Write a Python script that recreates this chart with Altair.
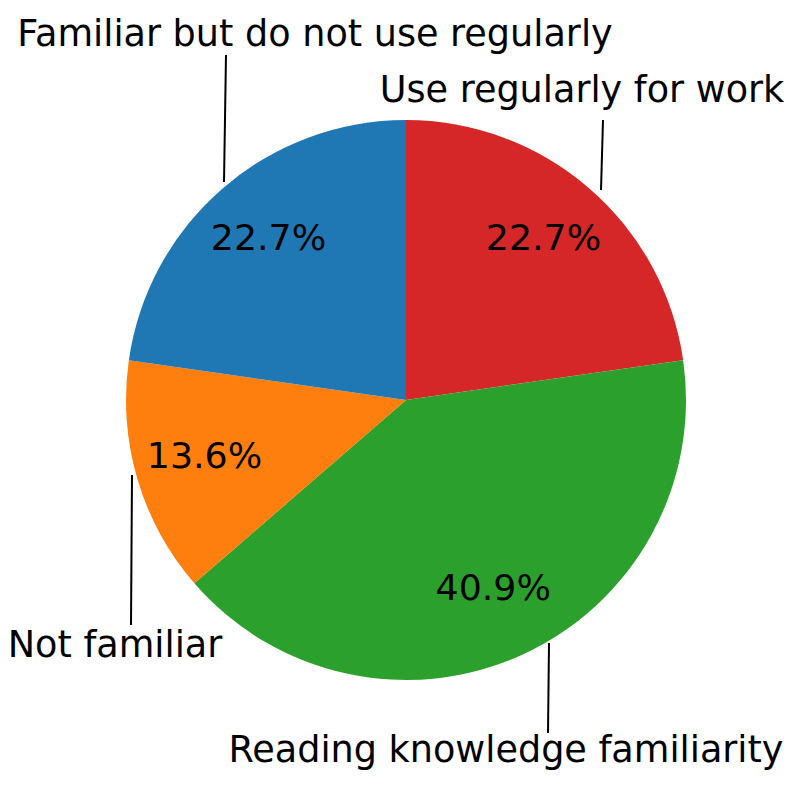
import altair as alt
import pandas as pd

# Data (clockwise from 12 o'clock)
categories = ["Use regularly for work", "Reading knowledge familiarity",
              "Not familiar", "Familiar but do not use regularly"]
counts = [5, 9, 3, 5]
colors = ["#d62728", "#2ca02c", "#ff7f0e", "#1f77b4"]

# Layout (page pixel coords; chart = page - 8)
OFF = 8
center = (406 - OFF, 400 - OFF)
R = 280
pct_r = 210
label_x = [582, 506, 115, 315]
label_y = [102, 762, 657, 46]
line_x1 = [603, 549, 132, 226]
line_y1 = [120, 643, 475, 55]
line_x2 = [601, 548, 131, 224]
line_y2 = [190, 733, 625, 182]

total = sum(counts)
df = pd.DataFrame({
    "category": categories,
    "count": counts,
    "pct": [c / total for c in counts],
    "idx": list(range(len(categories))),
})

lab = pd.DataFrame({
    "category": categories,
    "lx": [v - OFF for v in label_x],
    "ly": [v - OFF for v in label_y],
    "x1": [v - OFF for v in line_x1],
    "y1": [v - OFF for v in line_y1],
    "x2": [v - OFF for v in line_x2],
    "y2": [v - OFF for v in line_y2],
})

color_scale = alt.Scale(domain=categories, range=colors)

base = alt.Chart(df)

arcs = base.mark_arc(outerRadius=R, stroke=None).encode(
    theta=alt.Theta("count:Q", stack=True),
    order=alt.Order("idx:Q"),
    color=alt.Color("category:N", scale=color_scale, legend=None),
    x=alt.value(center[0]),
    y=alt.value(center[1]),
)

pct_text = base.mark_text(
    fontSize=36.3, font="DejaVu Sans", color="black", baseline="middle", align="center", dy=-2
).encode(
    theta=alt.Theta("count:Q", stack=True),
    order=alt.Order("idx:Q"),
    radius=alt.value(pct_r),
    text=alt.Text("pct:Q", format=".1%"),
    x=alt.value(center[0]),
    y=alt.value(center[1]),
)

lines = alt.Chart(lab).mark_rule(color="black", strokeWidth=2).encode(
    x=alt.X("x1:Q", scale=None),
    y=alt.Y("y1:Q", scale=None),
    x2="x2:Q",
    y2="y2:Q",
)

labels = alt.Chart(lab).mark_text(
    fontSize=36.6, font="DejaVu Sans", color="black", baseline="alphabetic", align="center"
).encode(
    x=alt.X("lx:Q", scale=None),
    y=alt.Y("ly:Q", scale=None),
    text="category:N",
)

chart = alt.layer(arcs, pct_text, lines, labels).properties(
    width=777, height=777, padding=0, autosize="none", background="white"
).configure_view(stroke=None)

chart.save("out.html", embed_options={"renderer": "svg", "actions": False})
